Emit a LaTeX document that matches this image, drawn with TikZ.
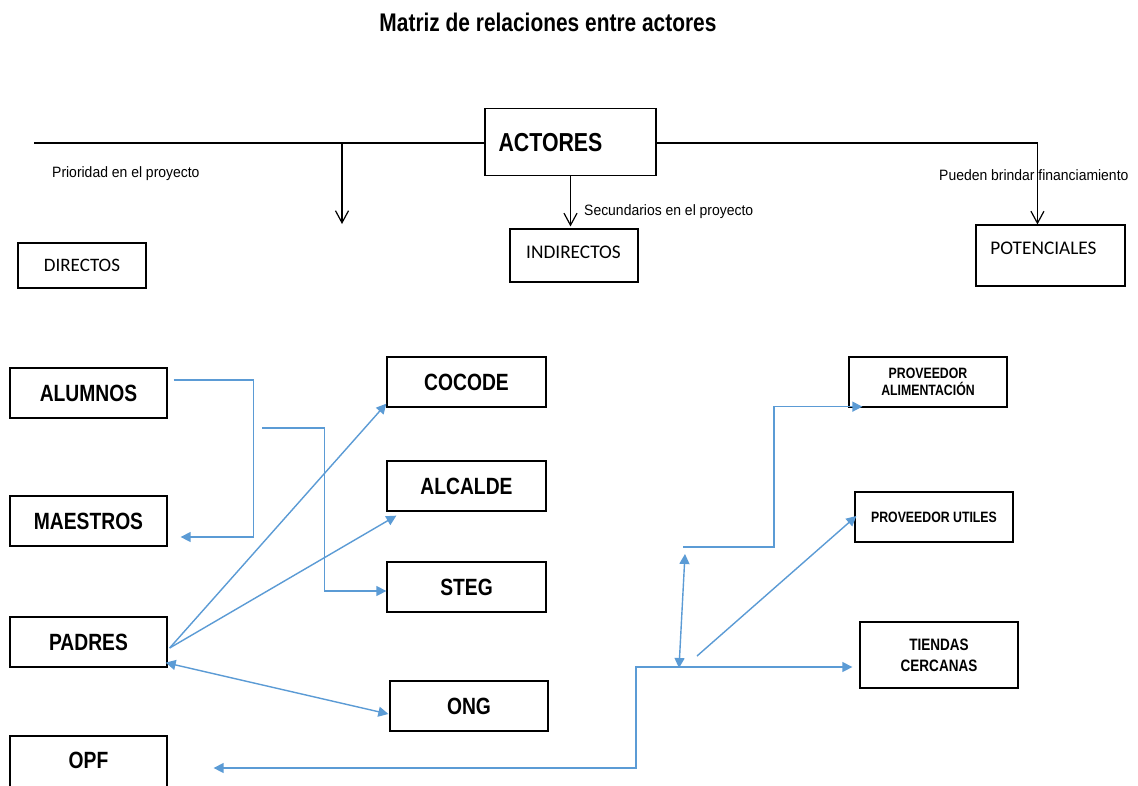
\documentclass[tikz,border=0pt]{standalone}
\usepackage{fontspec}
\setmainfont{Liberation Sans}
\newfontfamily\boldnar[FakeStretch=0.82]{Liberation Sans Bold}
\newfontfamily\regnar[FakeStretch=0.93]{Liberation Sans}
\newfontfamily\calib{Carlito}
\usetikzlibrary{arrows.meta,calc}
\definecolor{bluc}{RGB}{91,155,213}
\begin{document}
\begin{tikzpicture}[x=1pt,y=-1pt,
  blk/.style={line width=1.2pt,draw=black},
  blkarr/.style={blk,-{Straight Barb[length=12pt,width=13pt,line width=1.2pt]}},
  blu/.style={line width=1.4pt,draw=bluc},
  tipb/.style={-{Triangle[length=10pt,width=10pt]}},
  tipbb/.style={{Triangle[length=10pt,width=10pt]}-{Triangle[length=10pt,width=10pt]}},
  topbox/.style={draw,line width=1.1pt,inner sep=0pt},
  calibtxt/.style={inner sep=0pt,font=\calib\fontsize{19.3}{23}\selectfont},
  small/.style={inner sep=0pt,font=\regnar\fontsize{15}{18}\selectfont},
  lowbox/.style={draw,line width=1.3pt,minimum width=157pt,minimum height=50pt,inner sep=0pt,font=\boldnar\fontsize{23.5}{28}\selectfont},
  rbox/.style={draw,line width=1.3pt,minimum width=158pt,minimum height=50pt,inner sep=0pt,align=center,font=\boldnar\fontsize{15}{17}\selectfont}
]
\fill[white] (0,0) rectangle (1138,785);
\useasboundingbox (0,0) rectangle (1138,785);

% title
\node[inner sep=0pt,font=\boldnar\fontsize{25.5}{30}\selectfont] (title) at (548,22) {Matriz de relaciones entre actores};

% top boxes
\node[topbox,minimum width=171pt,minimum height=67pt] (act) at (570.5,142) {};
\node[inner sep=0pt,font=\boldnar\fontsize{26}{30}\selectfont] (acttxt) at (550.5,142.5) {ACTORES};
\node[topbox,minimum width=128pt,minimum height=45pt,font=\calib\fontsize{19}{23}\selectfont] (dir) at (82,265.5) {DIRECTOS};
\node[topbox,minimum width=128pt,minimum height=53pt] (ind) at (574,255.5) {};
\node[calibtxt] (indtxt) at (573.5,252) {INDIRECTOS};
\node[topbox,minimum width=149pt,minimum height=61pt] (pot) at (1050.5,255.5) {};
\node[calibtxt] (pottxt) at (1043.5,248) {POTENCIALES};

% labels
\node[small,anchor=base west] (l1) at (52,177) {Prioridad en el proyecto};
\node[small,anchor=base west] (l2) at (584,215) {Secundarios en el proyecto};
\node[small,anchor=base west] (l3) at (939,180) {Pueden brindar financiamiento};

% black lines
\coordinate (lend) at (34,143);
\coordinate (dtop) at (342,143);
\coordinate (dtip) at (342,224);
\draw[blk] (act.west |- lend) -- (lend);
\draw[blkarr] (dtop) -- (dtip);
\draw[blkarr] (act.east |- lend) -| ($(pot.north west)+(62,0)$);
\draw[blkarr,shorten >=2pt] (act.south) -- (act.south |- ind.north);

% lower left boxes
\node[lowbox] (alu) at (88.5,393) {ALUMNOS};
\node[lowbox] (mae) at (88.5,521) {MAESTROS};
\node[lowbox] (pad) at (88.5,642) {PADRES};
\node[lowbox,minimum height=54pt] (opf) at (88.5,763) {};
\node[inner sep=0pt,font=\boldnar\fontsize{23.5}{28}\selectfont] (opftxt) at (88.5,760) {OPF};

% middle boxes
\node[lowbox,minimum width=159pt] (coc) at (466.5,382) {COCODE};
\node[lowbox,minimum width=159pt] (alc) at (466.5,486) {ALCALDE};
\node[lowbox,minimum width=159pt] (steg) at (466.5,587) {STEG};
\node[lowbox,minimum width=158pt] (ong) at (469,706) {ONG};

% right boxes
\node[rbox] (pali) at (928,382) {PROVEEDOR\\ALIMENTACIÓN};
\node[rbox] (puti) at (934,517) {PROVEEDOR UTILES};
\node[rbox,minimum height=66pt,font=\boldnar\fontsize{16.5}{21}\selectfont] (tien) at (939,655) {TIENDAS\\CERCANAS};

% blue connectors
\draw[blu,tipb] ($(alu.east)+(6,-13)$) -| ($(mae.east)+(86,16)$) -- ($(mae.east)+(13,16)$);
\coordinate (s2) at (262,428);
\draw[blu,tipb] (s2) -| ($(steg.west)+(-62,4)$) -- ($(steg.west)+(0,4)$);
\draw[blu,tipb] ($(pad.east)+(2,6)$) -- ($(coc.south west)+(0,-4)$);
\draw[blu,tipb] ($(pad.east)+(2,6)$) -- ($(alc.south west)+(10,4)$);
\draw[blu,tipbb] ($(pad.south east)+(-2,-5)$) -- ($(ong.west)+(-1,8)$);
\coordinate (j1) at (636,667);
\draw[blu,tipbb] ($(opf.east)+(46,5)$) -| (j1) -- ($(tien.west)+(-7,12)$);
\coordinate (vb) at (679,668);
\coordinate (vt) at (685,554);
\draw[blu,tipbb] (vb) -- (vt);
\coordinate (s8) at (683,547);
\coordinate (c8) at (774,547);
\draw[blu,tipb] (s8) -- (c8) |- ($(pali.south west)+(14,-1)$);
\coordinate (s9) at (697,656);
\draw[blu,tipb] (s9) -- ($(puti.west)+(2,-1)$);
\end{tikzpicture}
\end{document}
